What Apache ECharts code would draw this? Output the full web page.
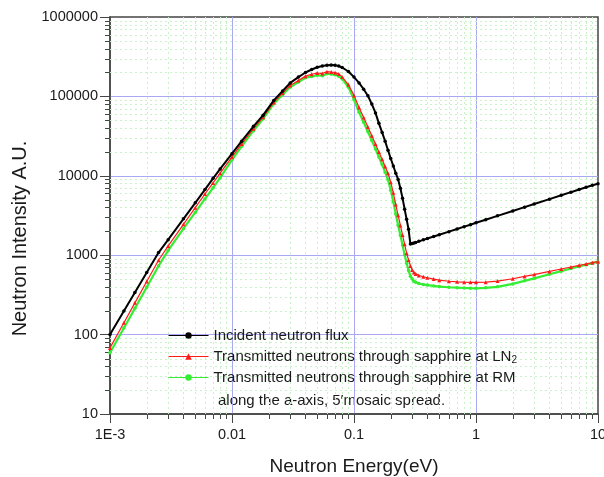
<!DOCTYPE html>
<html><head><meta charset="utf-8">
<script src="https://cdn.jsdelivr.net/npm/echarts@6/dist/echarts.min.js"></script>
<style>html,body{margin:0;padding:0;background:#fff}#c{width:604px;height:477px}</style>
</head><body><div id="c"></div>
<script>
const energy = [0.001,0.0013,0.0016,0.002,0.0025,0.003,0.004,0.005,0.006,0.007,0.008,0.01,0.012,0.015,0.018,0.022,0.026,0.03,0.035,0.04,0.045,0.05,0.055,0.06,0.065,0.07,0.075,0.08,0.09,0.1,0.11,0.12,0.13,0.14,0.15,0.16,0.17,0.18,0.19,0.2,0.21,0.22,0.23,0.24,0.25,0.26,0.27,0.28,0.29,0.3,0.31,0.32,0.34,0.37,0.4,0.45,0.5,0.6,0.7,0.8,0.9,1,1.2,1.5,2,2.5,3,4,5,6,7,8,9,10];
const incident = [100,198,339,606,1080,1570,2870,4570,6700,9290,12200,19000,27300,42000,58000,89000,117000,148000,175000,200000,218000,233000,242000,247000,248000,246000,241000,231000,206000,175000,148000,123000,102000,80000,62000,45800,35200,27200,21000,16500,13300,10800,9000,6970,5230,3800,2830,2120,1380,1400,1425,1450,1495,1560,1620,1720,1810,1980,2140,2290,2420,2560,2800,3130,3600,4030,4410,5080,5680,6220,6710,7170,7600,7950];
const transLN2 = [68,141,251,467,864,1310,2450,3970,5900,8130,10800,17300,25200,39200,54800,84000,110000,137000,159000,180000,190000,197000,194000,205000,203000,199000,192000,176000,140000,103000,72300,54300,41200,32000,25100,20000,16200,13100,10800,8300,6100,4350,3180,2370,1790,1370,1060,870,731,652,606,578,555,535,520,500,485,470,462,458,455,455,458,472,505,540,570,625,670,710,745,775,805,830];
const transRM = [59,121,214,394,731,1150,2160,3460,5110,7060,9460,15900,23500,37000,52200,81000,105000,131000,152000,172000,178000,185000,182000,193000,191000,187000,180000,166000,130000,91000,63000,47200,35800,27800,21800,17200,13900,11100,8900,6600,4700,3300,2390,1780,1340,1010,790,640,545,500,470,455,440,428,420,410,403,395,390,386,384,383,388,400,435,475,510,575,630,680,720,760,795,828];

const xTickLabels = ['1E-3','0.01','0.1','1','10'];
const yTickLabels = ['10','100','1000','10000','100000','1000000'];
const xMinor = [0.002,0.003,0.004,0.005,0.006,0.007,0.008,0.009,0.02,0.03,0.04,0.05,0.06,0.07,0.08,0.09,0.2,0.3,0.4,0.5,0.6,0.7,0.8,0.9,2,3,4,5,6,7,8,9];
const yMinor = [20,30,40,50,60,70,80,90,200,300,400,500,600,700,800,900,2000,3000,4000,5000,6000,7000,8000,9000,20000,30000,40000,50000,60000,70000,80000,90000,200000,300000,400000,500000,600000,700000,800000,900000];

const seriesNames = ['Incident neutron flux','Transmitted neutrons through sapphire at LN2','Transmitted neutrons through sapphire at RM'];
const FONT = '"Liberation Sans", Arial, sans-serif';
const TXT = '#1a1a1a';
const AX = '#454545';
const MINOR_GRID = '#c9f2c9';

function pairs(vals){ return energy.map((e,i)=>[e, vals[i]]); }

function xMinorItem(params, api){
  const cs = params.coordSys;
  const px = Math.round(api.coord([api.value(0), 1000])[0]) + 0.5;
  const b = cs.y + cs.height;
  return {type:'group', children:[
    {type:'line', shape:{x1:px, y1:cs.y, x2:px, y2:b}, style:{stroke:MINOR_GRID, lineWidth:1, lineDash:[2,3]}},
    {type:'line', shape:{x1:px, y1:b, x2:px, y2:b+5}, style:{stroke:AX, lineWidth:1}}
  ]};
}
function yMinorItem(params, api){
  const cs = params.coordSys;
  const py = Math.round(api.coord([0.01, api.value(1)])[1]) + 0.5;
  return {type:'group', children:[
    {type:'line', shape:{x1:cs.x, y1:py, x2:cs.x+cs.width, y2:py}, style:{stroke:MINOR_GRID, lineWidth:1, lineDash:[2,3]}},
    {type:'line', shape:{x1:cs.x-5, y1:py, x2:cs.x, y2:py}, style:{stroke:AX, lineWidth:1}}
  ]};
}

const chart = echarts.init(document.getElementById('c'), null, {renderer:'canvas'});
chart.setOption({
  animation:false,
  backgroundColor:'#ffffff',
  grid:{left:110, right:6, top:17, bottom:63, outerBoundsMode:'none', containLabel:false,
    show:true, borderColor:AX, borderWidth:1.5, backgroundColor:'transparent'},
  xAxis:{
    type:'log', logBase:10, min:0.001, max:10, splitNumber:4,
    axisLine:{show:true, onZero:false, lineStyle:{color:AX, width:1.5}},
    axisTick:{show:true, inside:false, length:9, lineStyle:{color:AX, width:1}},
    minorTick:{show:false},
    axisLabel:{margin:13, fontSize:14.5, color:TXT, fontFamily:FONT, formatter:(v,i)=>xTickLabels[i]},
    splitLine:{show:true, showMinLine:false, showMaxLine:false, lineStyle:{color:'#a9a9f2', width:1}},
    name:'Neutron Energy(eV)', nameLocation:'middle', nameGap:43,
    nameTextStyle:{fontSize:19, color:TXT, fontFamily:FONT}
  },
  yAxis:{
    type:'log', logBase:10, min:10, max:1000000, splitNumber:5,
    axisLine:{show:true, onZero:false, lineStyle:{color:AX, width:1.5}},
    axisTick:{show:true, inside:false, length:10, lineStyle:{color:AX, width:1}},
    minorTick:{show:false},
    axisLabel:{margin:12, fontSize:14.5, color:TXT, fontFamily:FONT, formatter:(v,i)=>yTickLabels[i]},
    splitLine:{show:true, showMinLine:false, showMaxLine:false, lineStyle:{color:'#a9a9f2', width:1}},
    name:'Neutron Intensity A.U.', nameLocation:'middle', nameGap:72,
    nameTextStyle:{fontSize:20, color:TXT, fontFamily:FONT, padding:[0,46,0,0]}
  },
  legend:{
    orient:'vertical', left:168, top:327, padding:0, itemWidth:40, itemHeight:8, itemGap:4,
    data:seriesNames,
    lineStyle:{width:1},
    formatter:(n)=> n.endsWith('LN2') ? '{n|Transmitted neutrons through sapphire at LN}{sub|2}' : n,
    textStyle:{fontSize:15, color:TXT, fontFamily:FONT, lineHeight:17,
      rich:{
        n:{fontSize:15, fontFamily:FONT, color:TXT, lineHeight:17},
        sub:{fontSize:10, fontFamily:FONT, color:TXT, verticalAlign:'bottom', lineHeight:17}
      }}
  },
  graphic:[{
    type:'text', left:218, top:393, silent:true,
    style:{text:'along the a-axis, 5\u2032mosaic spread.', fontSize:15, fontFamily:FONT, fill:TXT}
  }],
  series:[
    {type:'custom', name:'xminor', coordinateSystem:'cartesian2d', silent:true, z:1, clip:false,
      renderItem:xMinorItem, encode:{x:0,y:1}, data:xMinor.map(v=>[v,1000])},
    {type:'custom', name:'yminor', coordinateSystem:'cartesian2d', silent:true, z:1, clip:false,
      renderItem:yMinorItem, encode:{x:0,y:1}, data:yMinor.map(v=>[0.01,v])},
    {type:'line', name:seriesNames[2], data:pairs(transRM), z:3,
      symbol:'circle', symbolSize:3.5, showSymbol:true,
      lineStyle:{color:'#33ee33', width:2.2}, itemStyle:{color:'#33ee33'}},
    {type:'line', name:seriesNames[1], data:pairs(transLN2), z:4,
      symbol:'triangle', symbolSize:4, showSymbol:true,
      lineStyle:{color:'#ff1a1a', width:1.2}, itemStyle:{color:'#ff1a1a'}},
    {type:'line', name:seriesNames[0], data:pairs(incident), z:5,
      symbol:'circle', symbolSize:3.5, showSymbol:true,
      lineStyle:{color:'#000000', width:2}, itemStyle:{color:'#000000'}}
  ]
});
</script></body></html>
